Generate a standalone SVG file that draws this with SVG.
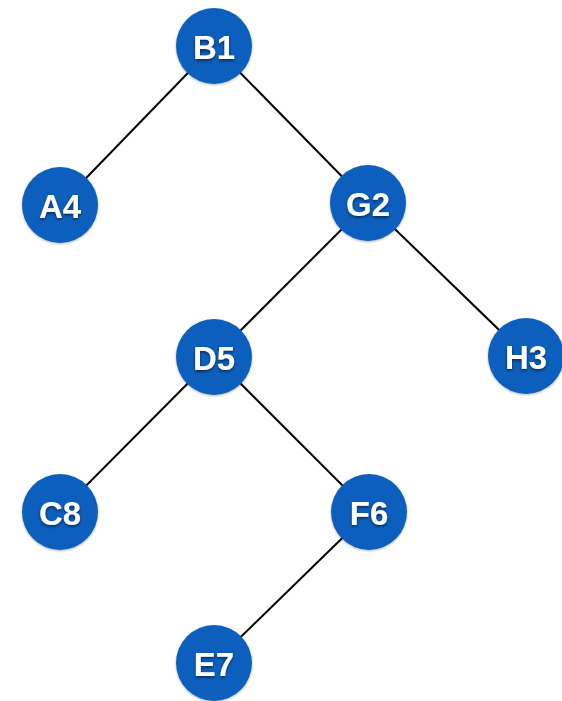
<svg xmlns="http://www.w3.org/2000/svg" width="562" height="701" viewBox="0 0 562 701">
<defs>
<filter id="ts" x="-30%" y="-30%" width="160%" height="160%"><feDropShadow dx="0" dy="1.5" stdDeviation="1.5" flood-color="#000" flood-opacity="0.6"/></filter>
<filter id="cs" x="-20%" y="-20%" width="140%" height="140%"><feDropShadow dx="0" dy="1" stdDeviation="1.2" flood-color="#000" flood-opacity="0.3"/></filter>
</defs>
<style>
.n{fill:#0a5fbe;filter:url(#cs)}
.t{fill:#fff;font-family:"Liberation Sans",Arial,sans-serif;font-weight:bold;font-size:33px;text-anchor:middle;dominant-baseline:central;filter:url(#ts)}
.e{stroke:#000;stroke-width:2;fill:none}
</style>
<g id="edges">
<line class="e" x1="214" y1="46" x2="60" y2="205"/>
<line class="e" x1="214" y1="46" x2="368" y2="203"/>
<line class="e" x1="368" y1="203" x2="214" y2="357"/>
<line class="e" x1="368" y1="203" x2="526" y2="356"/>
<line class="e" x1="214" y1="357" x2="60" y2="512"/>
<line class="e" x1="214" y1="357" x2="369" y2="512"/>
<line class="e" x1="369" y1="512" x2="214" y2="663"/>
</g>
<g id="B1"><circle class="n" cx="214" cy="46" r="38"/><text class="t" x="214" y="47">B1</text></g>
<g id="A4"><circle class="n" cx="60" cy="205" r="38"/><text class="t" x="60" y="206">A4</text></g>
<g id="G2"><circle class="n" cx="368" cy="203" r="38"/><text class="t" x="368" y="204">G2</text></g>
<g id="D5"><circle class="n" cx="214" cy="357" r="38"/><text class="t" x="214" y="358">D5</text></g>
<g id="H3"><circle class="n" cx="526" cy="356" r="38"/><text class="t" x="526" y="357">H3</text></g>
<g id="C8"><circle class="n" cx="60" cy="512" r="38"/><text class="t" x="60" y="513">C8</text></g>
<g id="F6"><circle class="n" cx="369" cy="512" r="38"/><text class="t" x="369" y="513">F6</text></g>
<g id="E7"><circle class="n" cx="214" cy="663" r="38"/><text class="t" x="214" y="664">E7</text></g>
</svg>
